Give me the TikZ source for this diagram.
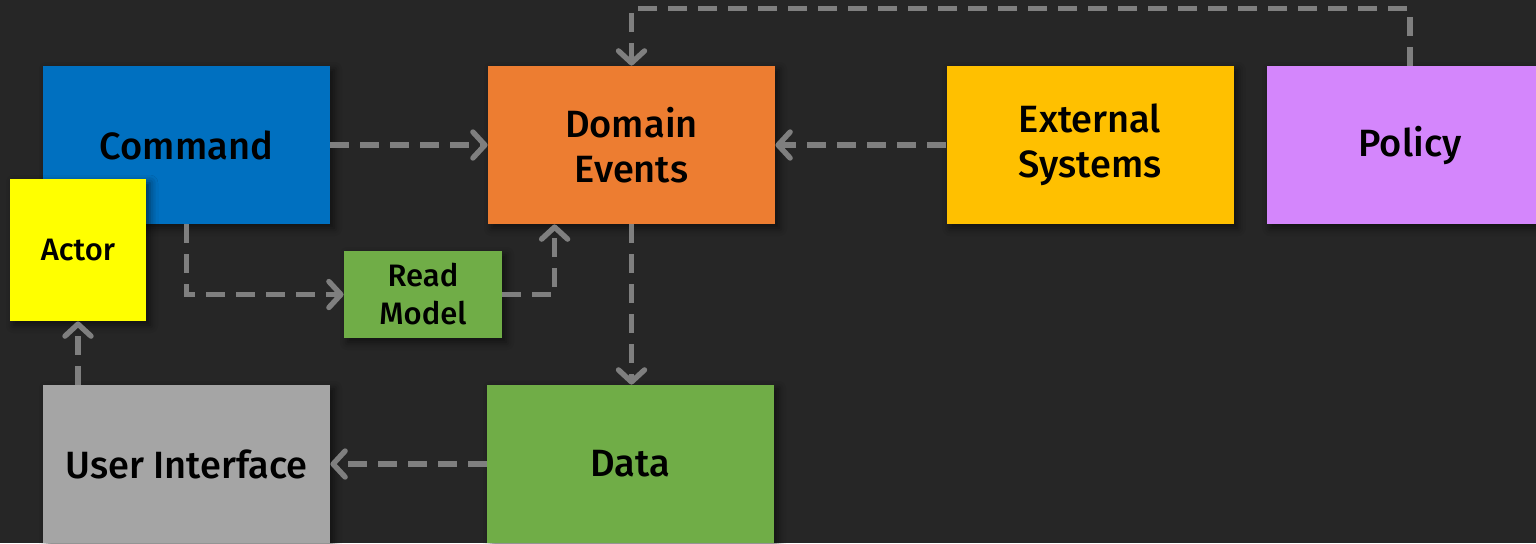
\documentclass[tikz,border=0pt]{standalone}
\usepackage{fontspec}
\setmainfont{Fira Sans}[UprightFont={* Medium}]
\usepackage{xcolor}
\usetikzlibrary{arrows.meta, shadows.blur}

\definecolor{bgdark}{HTML}{262626}
\definecolor{cmdblue}{HTML}{0070C0}
\definecolor{evtorange}{HTML}{ED7D31}
\definecolor{extgold}{HTML}{FFC000}
\definecolor{polviolet}{HTML}{D486FC}
\definecolor{datagreen}{HTML}{70AD47}
\definecolor{uigray}{HTML}{A5A5A5}
\definecolor{actyellow}{HTML}{FFFF00}
\definecolor{linkgray}{HTML}{7F7F7F}

\tikzset{
    box/.style={inner sep=0pt, align=center, text=black,
        font=\fontsize{19}{22.5}\selectfont,
        blur shadow={shadow xshift=2pt, shadow yshift=-2pt,
            shadow blur radius=4pt, shadow opacity=55}},
    bigbox/.style={box, minimum width=143.5pt, minimum height=79pt},
    smallbox/.style={box, font=\fontsize{15.5}{19}\selectfont},
    flow/.style={draw=linkgray, line width=2.7pt, dash pattern=on 9.5pt off 5.5pt,
        -{Straight Barb[length=6pt, width=13pt, round]}}
}

\begin{document}
\begin{tikzpicture}[x=0.5pt, y=-0.5pt]
    \fill[bgdark] (0,0) rectangle (1536,543);
    \clip (0,0) rectangle (1536,543);

    % top row
    \node[bigbox, fill=cmdblue] (cmd) at (186.5,145) {Command};
    \node[bigbox, fill=evtorange] (dom) at (631.5,145) {Domain\\Events};
    \node[bigbox, fill=extgold] (ext) at (1090,145) {External\\Systems};
    \node[bigbox, fill=polviolet] (pol) at (1410,145) {Policy};

    % middle
    \node[smallbox, fill=actyellow, minimum width=68pt, minimum height=71pt] (act) at (78,250) {Actor};
    \node[smallbox, fill=datagreen, minimum width=79pt, minimum height=43.5pt] (rm) at (423,294.5) {Read\\Model};

    % bottom row
    \node[bigbox, fill=uigray] (ui) at (186.5,464) {User Interface};
    \node[bigbox, fill=datagreen] (data) at (630.5,464) {Data};

    \draw[flow] (cmd.east) -- (dom.west);
    \draw[flow] (ext.west) -- (dom.east);
    \draw[flow] (pol.north) -- ++(0,-57) -| (dom.north);
    \draw[flow] (cmd.south) |- (rm.west);
    \draw[flow] (rm.east) -| ([xshift=33.5pt]dom.south west);
    \draw[flow] (dom.south) -- (dom.south |- data.north);
    \draw[flow] (data.west) -- (ui.east);
    \draw[flow] (act.south |- ui.north) -- (act.south);
\end{tikzpicture}
\end{document}
